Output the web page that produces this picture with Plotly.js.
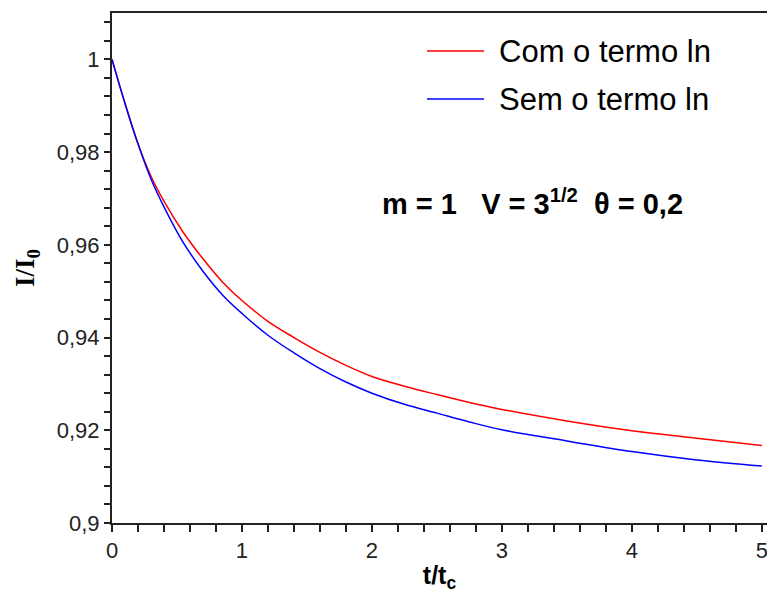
<!DOCTYPE html>
<html>
<head>
<meta charset="utf-8">
<script src="https://cdn.plot.ly/plotly-3.0.1.min.js"></script>
<style>html,body{margin:0;padding:0;background:#fff;}#chart{width:767px;height:596px;}</style>
</head>
<body>
<div id="chart"></div>
<script>
// Data
const tValues = [0, 0.1, 0.2, 0.3, 0.4, 0.55, 0.7, 0.85, 1.0, 1.2, 1.4, 1.6, 1.8, 2.0, 2.25, 2.5, 2.75, 3.0, 3.5, 4.0, 4.5, 5.0];
const comTermo = [1.0, 0.9905, 0.9818, 0.9748, 0.9694, 0.9626, 0.9570, 0.9520, 0.9480, 0.9435, 0.9400, 0.9368, 0.9340, 0.9316, 0.9295, 0.9277, 0.9260, 0.9245, 0.9220, 0.9199, 0.9183, 0.9167];
const semTermo = [1.0, 0.9905, 0.9818, 0.9742, 0.9682, 0.9604, 0.9543, 0.9492, 0.9452, 0.9405, 0.9367, 0.9333, 0.9304, 0.9280, 0.9256, 0.9237, 0.9218, 0.9201, 0.9177, 0.9154, 0.9136, 0.9123];
const seriesNames = ["Com o termo ln", "Sem o termo ln"];
const xTickVals = [0, 1, 2, 3, 4, 5];
const xTickText = ["0", "1", "2", "3", "4", "5"];
const yTickVals = [0.9, 0.92, 0.94, 0.96, 0.98, 1.0];
const yTickText = ["0,9", "0,92", "0,94", "0,96", "0,98", "1"];
const paramText = "<b>m = 1   V = 3<sup>1/2</sup>  θ = 0,2</b>";

const colors = ["#ff0000", "#0000ff"];
const W = 767, H = 596, L = 112, R = 0, T = 13, B = 73;
const px = x => (x - L) / (W - L - R);
const py = y => (H - B - y) / (H - T - B);

const traces = [
  {x: tValues, y: comTermo, name: seriesNames[0], mode: "lines", line: {color: colors[0], width: 1.5, shape: "spline", smoothing: 1}},
  {x: tValues, y: semTermo, name: seriesNames[1], mode: "lines", line: {color: colors[1], width: 1.5, shape: "spline", smoothing: 1}}
];

const tickFont = {family: "Liberation Sans, Arial, sans-serif", size: 22, color: "#222"};
const layout = {
  width: W, height: H,
  margin: {l: L, r: R, t: T, b: B},
  paper_bgcolor: "#fff", plot_bgcolor: "#fff",
  showlegend: false,
  separators: ", ",
  xaxis: {
    range: [0, 5.04], showgrid: false, zeroline: false,
    showline: true, linecolor: "#222", linewidth: 2, mirror: true,
    ticks: "outside", ticklen: 7, tickwidth: 2, tickcolor: "#222",
    tickvals: xTickVals, ticktext: xTickText, tickfont: tickFont,
    ticklabeloverflow: "allow",
    minor: {dtick: 0.2, ticks: "outside", ticklen: 7, tickwidth: 2, tickcolor: "#222", showgrid: false},
    title: {text: "<b>t/t<sub>c</sub></b>", font: {family: "Liberation Sans, Arial, sans-serif", size: 25, color: "#000"}, standoff: 4}
  },
  yaxis: {
    range: [0.9, 1.01], showgrid: false, zeroline: false,
    showline: true, linecolor: "#222", linewidth: 2,
    ticks: "outside", ticklen: 6, tickwidth: 2, tickcolor: "#222",
    tickvals: yTickVals, ticktext: yTickText, tickfont: tickFont,
    minor: {dtick: 0.004, ticks: "outside", ticklen: 6, tickwidth: 2, tickcolor: "#222", showgrid: false},
    title: {text: "<b>I/I<sub>0</sub></b>", font: {family: "Liberation Serif, Times New Roman, serif", size: 27, color: "#000"}, standoff: 14}
  },
  shapes: [
    {type: "line", xref: "paper", yref: "paper", x0: px(427), x1: px(484), y0: py(51), y1: py(51), line: {color: colors[0], width: 1.5}},
    {type: "line", xref: "paper", yref: "paper", x0: px(427), x1: px(484), y0: py(99), y1: py(99), line: {color: colors[1], width: 1.5}}
  ],
  annotations: [
    {xref: "paper", yref: "paper", x: px(497), y: py(52), xanchor: "left", yanchor: "middle", showarrow: false, text: seriesNames[0], font: {family: "Liberation Sans, Arial, sans-serif", size: 31, color: "#000"}},
    {xref: "paper", yref: "paper", x: px(497), y: py(100), xanchor: "left", yanchor: "middle", showarrow: false, text: seriesNames[1], font: {family: "Liberation Sans, Arial, sans-serif", size: 31, color: "#000"}},
    {xref: "paper", yref: "paper", x: px(380), y: py(202), xanchor: "left", yanchor: "middle", showarrow: false, text: paramText, font: {family: "Liberation Sans, Arial, sans-serif", size: 29, color: "#000"}}
  ]
};

Plotly.newPlot("chart", traces, layout, {staticPlot: true, displayModeBar: false});
</script>
</body>
</html>
